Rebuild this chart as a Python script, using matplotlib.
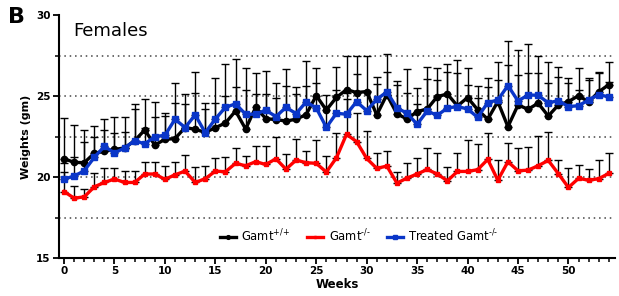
import numpy as np
import matplotlib.pyplot as plt
from matplotlib.ticker import MultipleLocator

weeks = np.arange(55)

# means (gm)
wt = [21.14, 20.91, 20.89, 21.47, 21.59, 21.71, 21.8, 22.25, 22.91, 21.98,
      22.33, 22.38, 23.06, 22.95, 22.76, 23.05, 23.34, 24.08, 22.97, 24.31,
      23.61, 23.55, 23.46, 23.57, 23.86, 25.03, 24.14, 24.92, 25.4, 25.22,
      25.28, 23.84, 25.09, 23.9, 23.59, 24.04, 24.21, 24.97, 25.13, 24.39,
      24.91, 24.16, 23.57, 24.66, 23.11, 24.45, 24.19, 24.56, 23.77, 24.45,
      24.66, 25.03, 24.64, 25.26, 25.71]
ko = [19.11, 18.7, 18.78, 19.4, 19.67, 19.88, 19.67, 19.67, 20.19, 20.19,
      19.86, 20.14, 20.37, 19.67, 19.9, 20.37, 20.33, 20.85, 20.7, 20.95,
      20.78, 21.13, 20.49, 21.05, 20.89, 20.85, 20.31, 21.19, 22.64, 22.19,
      21.15, 20.54, 20.68, 19.63, 19.94, 20.19, 20.47, 20.19, 19.77, 20.35,
      20.35, 20.46, 21.09, 19.81, 20.95, 20.39, 20.43, 20.7, 21.03, 20.21,
      19.36, 19.92, 19.81, 19.9, 20.23]
treated = [19.88, 20.06, 20.39, 21.22, 21.9, 21.49, 21.8, 22.25, 22.05, 22.5,
           22.58, 23.57, 23.06, 23.84, 22.74, 23.59, 24.31, 24.52, 23.88, 23.88,
           24.14, 23.73, 24.31, 23.92, 24.64, 24.27, 23.07, 23.94, 23.88, 24.66,
           24.1, 24.8, 25.26, 24.27, 23.94, 23.26, 24.08, 23.81, 24.27, 24.35,
           24.21, 23.69, 24.6, 24.76, 25.65, 24.7, 25.07, 25.05, 24.58, 24.72,
           24.35, 24.41, 24.76, 25.09, 24.95]

# top of each error bar
wt_top = [23.62, 23.24, 22.91, 23.18, 23.6, 23.74, 23.68, 24.52, 24.8, 24.65,
          23.95, 25.8, 25.14, 26.49, 24.56, 26.1, 26.97, 27.28, 26.72, 26.41,
          26.52, 25.8, 26.66, 25.55, 27.15, 26.72, 25.07, 26.82, 27.5, 27.5,
          27.5, 26.2, 27.59, 25.96, 26.66, 25.48, 26.82, 26.76, 26.97, 27.24,
          26.76, 25.6, 25.59, 27.13, 28.39, 27.86, 28.2, 27.48, 27.13, 26.82,
          26.1, 26.72, 26.14, 26.45, 27.13]
ko_top = [20.3, 19.46, 19.26, 20.27, 20.54, 20.54, 20.39, 20.39, 20.95, 20.95,
          20.68, 20.91, 21.38, 20.64, 20.66, 21.15, 21.22, 21.77, 21.28, 21.94,
          21.94, 22.5, 21.4, 22.35, 21.63, 22.29, 21.28, 22.7, 24.82, 23.94,
          22.82, 21.46, 21.63, 20.33, 20.85, 21.15, 21.77, 21.46, 20.64, 21.46,
          22.29, 22.02, 22.74, 21.05, 22.08, 21.77, 21.88, 22.54, 22.8, 21.05,
          20.54, 20.76, 20.47, 21.03, 21.46]
treated_top = [20.89, 21.26, 22.19, 22.46, 22.91, 22.7, 22.8, 24.2, 23.04, 23.7,
               23.8, 24.6, 24.5, 25.2, 24.19, 24.56, 25.0, 25.55, 25.4, 25.1,
               25.1, 24.9, 25.6, 25.1, 25.6, 25.8, 24.4, 25.4, 25.2, 26.37,
               25.3, 25.75, 26.5, 25.69, 25.2, 24.5, 26.06, 26.0, 26.5, 26.4,
               25.7, 24.9, 26.1, 26.0, 26.9, 26.3, 26.4, 26.4, 25.8, 26.2,
               25.8, 25.4, 26.0, 26.5, 25.9]

labels = [r'Gamt$^{\text{+/+}}$', r'Gamt$^{\text{-/-}}$', r'Treated Gamt$^{\text{-/-}}$']

fig = plt.figure(figsize=(6.19, 2.96), dpi=100)
ax = fig.add_axes([0.0953, 0.128, 0.898, 0.821])

def draw(mean, top, color, marker, ms, label, z):
    mean = np.array(mean)
    err = np.clip(np.array(top) - mean, 0, None)
    ax.errorbar(weeks, mean, yerr=[np.zeros_like(err), err], fmt='none',
                ecolor='black', elinewidth=1, capsize=3, capthick=1, zorder=z - 1)
    ax.plot(weeks, mean, color=color, lw=2.4, marker=marker, ms=ms,
            label=label, zorder=z)

draw(ko, ko_top, '#ff0000', 's', 2.5, labels[1], 3)
draw(wt, wt_top, 'black', 'o', 4.5, labels[0], 5)
draw(treated, treated_top, '#0a36c8', 's', 4.5, labels[2], 6)

for y in [17.5, 20, 22.5, 25, 27.5]:
    ax.axhline(y, color='#444444', ls=(0, (1, 2.5)), lw=1.1, zorder=1)

ax.set_xlim(-0.5, 54.6)
ax.set_ylim(15, 30)
ax.spines['top'].set_visible(False)
ax.spines['right'].set_visible(False)
ax.spines['left'].set_linewidth(1.5)
ax.spines['bottom'].set_linewidth(1.5)
ax.xaxis.set_major_locator(MultipleLocator(5))
ax.xaxis.set_minor_locator(MultipleLocator(1))
ax.yaxis.set_major_locator(MultipleLocator(5))
ax.yaxis.set_minor_locator(MultipleLocator(2.5))
ax.tick_params(which='major', length=4, width=1.3, labelsize=7.5, pad=2)
ax.tick_params(which='minor', length=3, width=1.1)
for t in ax.get_xticklabels() + ax.get_yticklabels():
    t.set_fontweight('bold')

ax.set_xlabel('Weeks', fontsize=8.5, fontweight='bold', labelpad=1)
ax.set_ylabel('Weights (gm)', fontsize=8, fontweight='bold', labelpad=4)

ax.text(0.025, 0.97, 'Females', transform=ax.transAxes, fontsize=13,
        va='top', ha='left')
fig.text(0.013, 0.975, 'B', fontsize=16, fontweight='bold', va='top', ha='left')

h, l = ax.get_legend_handles_labels()
order = [1, 0, 2]
ax.legend([h[i] for i in order], [l[i] for i in order], loc='lower center',
          bbox_to_anchor=(0.54, 0.015), ncol=3, frameon=False, fontsize=8.3,
          handlelength=1.4, columnspacing=1.4, handletextpad=0.5, markerscale=0.6)

fig.savefig('out.png', dpi=100)
